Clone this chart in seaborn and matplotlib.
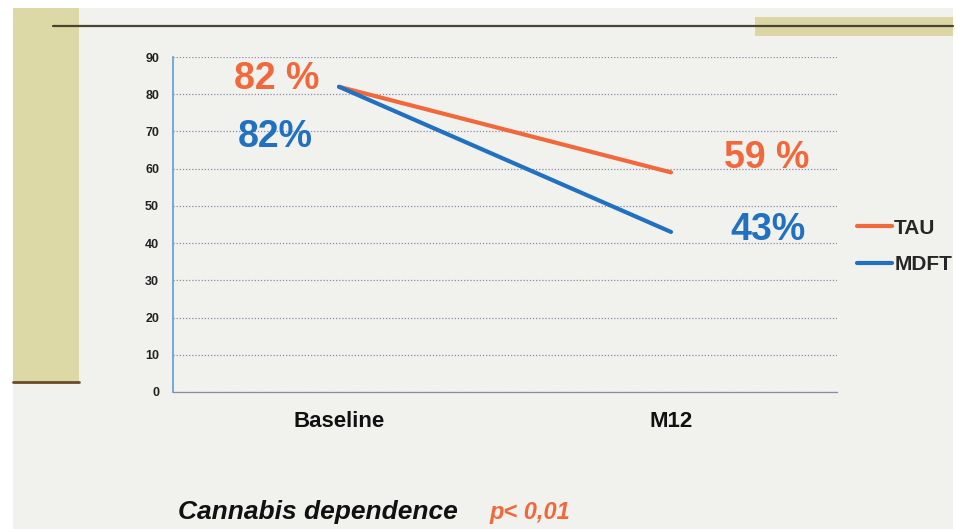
import matplotlib
matplotlib.use("Agg")
import matplotlib.pyplot as plt
from matplotlib.patches import Rectangle
from matplotlib.lines import Line2D
import seaborn as sns
import pandas as pd

# data
timepoints = ["Baseline", "M12"]
tau = [82, 59]
mdft = [82, 43]
groups = ["TAU", "MDFT"]
yticks = [0, 10, 20, 30, 40, 50, 60, 70, 80, 90]

df = pd.DataFrame({
    "time": timepoints * 2,
    "value": tau + mdft,
    "group": [groups[0]] * 2 + [groups[1]] * 2,
})

sns.set_style("white")
plt.rcParams["font.family"] = ["Liberation Sans", "DejaVu Sans"]

orange = "#f0683c"
blue = "#2270c0"
paper = "#f1f2ee"

fig = plt.figure(figsize=(9.58, 5.29), dpi=100, facecolor="white")

# paper background and slide decorations
fig.patches.append(Rectangle((13/958, 0), 940/958, 1 - 8/529, transform=fig.transFigure,
                             facecolor=paper, edgecolor="none", zorder=-10))
fig.patches.append(Rectangle((13/958, 1 - 382/529), 66/958, (382 - 8)/529,
                             transform=fig.transFigure, facecolor="#dcd9a6",
                             edgecolor="none", zorder=-9))
fig.patches.append(Rectangle((755/958, 1 - 36/529), 198/958, 19/529,
                             transform=fig.transFigure, facecolor="#dcd6a4",
                             edgecolor="none", zorder=-9))
fig.lines.append(Line2D([53/958, 953/958], [1 - 26/529, 1 - 26/529], transform=fig.transFigure,
                        color="#4a4232", lw=1.6))
fig.lines.append(Line2D([13/958, 79/958], [1 - 382/529, 1 - 382/529], transform=fig.transFigure,
                        color="#6b4a2a", lw=2))

ax = fig.add_axes([173/958, 1 - 392/529, 664/958, 335/529])
ax.set_facecolor("none")

sns.lineplot(data=df, x="time", y="value", hue="group", hue_order=groups,
             palette=[orange, blue], linewidth=3, ax=ax, legend=False, sort=False)

ax.set_xlim(-0.5, 1.5)
ax.set_ylim(0, 90)
ax.set_yticks(yticks)
ax.set_yticklabels([str(v) for v in yticks], fontsize=9, fontweight="bold", color="#222222")
ax.set_xticks([0, 1])
ax.set_xticklabels(timepoints, fontsize=16, fontweight="bold", color="#111111")
ax.set_xticks([-0.5, 0.5, 1.5], minor=True)
ax.tick_params(axis="x", which="major", length=0, pad=14)
ax.tick_params(axis="x", which="minor", length=5, color="#8a8aa0", direction="out")
ax.tick_params(axis="y", length=4, color="#5a9fd8", direction="out", pad=6)
ax.set_xlabel("")
ax.set_ylabel("")

ax.grid(axis="y", color="#8d8aa8", linestyle=(0, (1, 1.5)), linewidth=0.9)
ax.set_axisbelow(True)
for s in ["top", "right"]:
    ax.spines[s].set_visible(False)
ax.spines["left"].set_color("#5a9fd8")
ax.spines["left"].set_linewidth(1.2)
ax.spines["bottom"].set_color("#8d8aa8")
ax.spines["bottom"].set_linewidth(0.9)

# value labels
ax.text(-0.06, tau[0] + 2, f"{tau[0]} %", color=orange, fontsize=27, fontweight="bold",
        ha="right", va="center")
ax.text(-0.08, mdft[0] - 13.5, f"{mdft[0]}%", color=blue, fontsize=27, fontweight="bold",
        ha="right", va="center")
ax.text(1.16, tau[1] + 4, f"{tau[1]} %", color=orange, fontsize=27, fontweight="bold",
        ha="left", va="center")
ax.text(1.18, mdft[1] + 0.5, f"{mdft[1]}%", color=blue, fontsize=27, fontweight="bold",
        ha="left", va="center")

# legend
handles = [Line2D([0], [0], color=orange, lw=3), Line2D([0], [0], color=blue, lw=3)]
leg = fig.legend(handles, groups, loc="upper left", bbox_to_anchor=(838/958, 1 - 200/529),
                 frameon=False, handlelength=1.7, handletextpad=0.1, labelspacing=0.85,
                 prop={"size": 15, "weight": "bold"})

fig.text(178/958, 1 - 512/529, "Cannabis dependence", fontsize=19, fontweight="bold",
         fontstyle="italic", color="#111111", va="center")
fig.text(490/958, 1 - 512/529, "p< 0,01", fontsize=17, fontweight="bold",
         fontstyle="italic", color=orange, va="center")

fig.savefig("out.png", dpi=100, facecolor=fig.get_facecolor())
